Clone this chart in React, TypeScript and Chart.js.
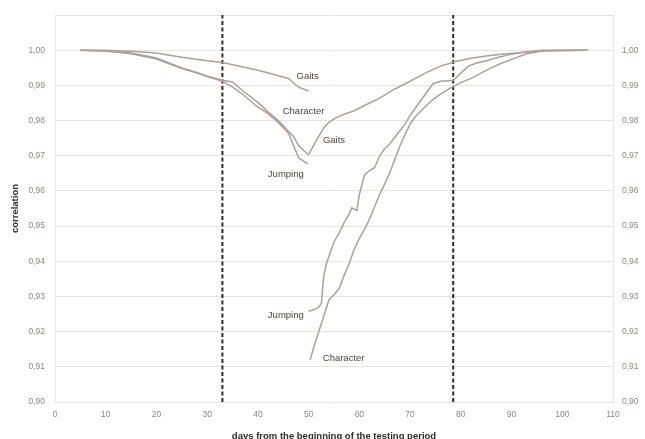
import React, { useEffect, useRef } from 'react';
import { Chart, registerables } from 'chart.js';

Chart.register(...registerables);

// ---- Data ----
const gaitsLeftDays = [5, 10, 15, 20, 25, 30, 33, 36, 40, 43, 46, 48, 50];
const gaitsLeftValues = [1.0, 1.0, 0.9997, 0.9992, 0.998, 0.997, 0.9965, 0.9956, 0.9943, 0.9932, 0.992, 0.9895, 0.9884];

const characterLeftDays = [5, 10, 15, 20, 25, 28, 30, 33, 35, 37, 40, 42, 44, 45, 46, 47, 48, 49, 50];
const characterLeftValues = [1.0, 0.9998, 0.9992, 0.9978, 0.995, 0.9937, 0.9926, 0.9915, 0.991, 0.9885, 0.9852, 0.9825, 0.98, 0.9785, 0.977, 0.9755, 0.973, 0.9715, 0.9703];

const jumpingLeftDays = [5, 10, 15, 20, 25, 28, 30, 33, 35, 37, 40, 42, 44, 45, 46, 47, 48, 49, 49.8];
const jumpingLeftValues = [1.0, 0.9998, 0.999, 0.9975, 0.9948, 0.9935, 0.9925, 0.9912, 0.9895, 0.9875, 0.9838, 0.982, 0.9795, 0.978, 0.9765, 0.973, 0.9695, 0.9685, 0.9677];

const gaitsRightDays = [50, 51, 52, 53, 54, 55, 57, 59, 62, 64, 67, 70, 73, 76, 79, 82, 85, 88, 93, 98, 105];
const gaitsRightValues = [0.9703, 0.973, 0.9755, 0.978, 0.9795, 0.9805, 0.9818, 0.9828, 0.985, 0.9864, 0.989, 0.9912, 0.9935, 0.9955, 0.9968, 0.9977, 0.9984, 0.9989, 0.9995, 0.9999, 1.0];

const jumpingRightDays = [50, 51, 52, 52.5, 53, 53.5, 55, 56, 57, 58, 58.5, 59, 59.5, 60, 61, 62, 63, 64, 65, 66, 67.5, 69, 70, 71.5, 73, 74.5, 76, 78.5, 80, 81.5, 83, 85, 87.5, 90, 93, 96, 105];
const jumpingRightValues = [0.9258, 0.9262, 0.927, 0.928, 0.936, 0.9394, 0.9455, 0.948, 0.951, 0.9535, 0.9552, 0.9548, 0.9544, 0.959, 0.9645, 0.9658, 0.9666, 0.97, 0.972, 0.9734, 0.9762, 0.979, 0.9815, 0.9845, 0.9875, 0.9905, 0.9912, 0.9914, 0.9935, 0.9955, 0.9963, 0.997, 0.998, 0.9989, 0.9996, 1.0, 1.0];

const characterRightDays = [50.3, 51, 52, 53, 54, 55, 56, 57, 58, 59, 60, 61, 62, 63, 64, 65, 66, 67, 68, 69, 70, 71, 72, 73, 74.5, 76, 78, 80, 82, 84, 86, 88, 90, 93, 96, 105];
const characterRightValues = [0.912, 0.9155, 0.92, 0.9245, 0.929, 0.9305, 0.9322, 0.936, 0.9394, 0.9435, 0.9465, 0.949, 0.952, 0.9555, 0.959, 0.962, 0.9652, 0.969, 0.9728, 0.976, 0.979, 0.981, 0.9825, 0.984, 0.986, 0.9875, 0.9893, 0.9908, 0.992, 0.9935, 0.995, 0.9963, 0.9974, 0.999, 0.9998, 1.0];

const periodBoundaryDays = [33, 78.5];

const xTickValues = [0, 10, 20, 30, 40, 50, 60, 70, 80, 90, 100, 110];
const yTickValues = [0.9, 0.91, 0.92, 0.93, 0.94, 0.95, 0.96, 0.97, 0.98, 0.99, 1.0, 1.01];
const hiddenYTickValues = [1.01];

const curveLabelTexts = ['Gaits', 'Character', 'Gaits', 'Jumping', 'Jumping', 'Character'];
const curveLabelDays = [49.8, 49.0, 55.0, 45.5, 45.5, 56.9];
const curveLabelValues = [0.9926, 0.9827, 0.9745, 0.9646, 0.9246, 0.9125];

const xTitle = 'days from the beginning of the testing period';
const yTitle = 'correlation';

// ---- helpers ----
const toPoints = (days: number[], values: number[]) => days.map((d, i) => ({ x: d, y: values[i] }));

const LINE_COLOR = '#a9a19d';
const GRID_COLOR = '#e7e3e1';
const TICK_COLOR = '#8c8886';

const curveLabelsPlugin = {
  id: 'curveLabels',
  afterDatasetsDraw(chart: any) {
    const { ctx, scales } = chart;
    ctx.save();
    ctx.font = '9.5px "Liberation Sans", Arial, sans-serif';
    ctx.fillStyle = '#4a4644';
    ctx.textAlign = 'center';
    ctx.textBaseline = 'middle';
    curveLabelTexts.forEach((t, i) => {
      const px = scales.x.getPixelForValue(curveLabelDays[i]);
      const py = scales.y.getPixelForValue(curveLabelValues[i]);
      ctx.fillText(t, px, py);
    });
    ctx.restore();
  },
};

export default function App() {
  const canvasRef = useRef<HTMLCanvasElement | null>(null);

  useEffect(() => {
    if (!canvasRef.current) return;
    const series = [
      toPoints(gaitsLeftDays, gaitsLeftValues),
      toPoints(characterLeftDays, characterLeftValues),
      toPoints(jumpingLeftDays, jumpingLeftValues),
      toPoints(gaitsRightDays, gaitsRightValues),
      toPoints(jumpingRightDays, jumpingRightValues),
      toPoints(characterRightDays, characterRightValues),
    ];
    const datasets: any[] = series.map((pts) => ({
      data: pts,
      borderColor: LINE_COLOR,
      borderWidth: 1.5,
      pointRadius: 0,
      tension: 0,
      fill: false,
    }));
    periodBoundaryDays.forEach((d) => {
      datasets.push({
        data: [
          { x: d, y: yTickValues[0] },
          { x: d, y: yTickValues[yTickValues.length - 1] },
        ],
        borderColor: '#2a2a2a',
        borderWidth: 2,
        borderDash: [4, 2.5],
        pointRadius: 0,
        fill: false,
      });
    });

    const fmt = (v: number) => {
      if (hiddenYTickValues.some((h) => Math.abs(h - v) < 1e-6)) return '';
      return v.toFixed(2).replace('.', ',');
    };
    const yTicksFn = (axis: any) => {
      axis.ticks = yTickValues.map((v) => ({ value: v }));
    };

    const chart = new Chart(canvasRef.current, {
      type: 'line',
      data: { datasets },
      plugins: [curveLabelsPlugin],
      options: {
        animation: false,
        responsive: false,
        parsing: true,
        layout: { padding: { top: 14, left: 0, right: 0, bottom: 0 } },
        plugins: { legend: { display: false }, tooltip: { enabled: false } },
        scales: {
          x: {
            type: 'linear',
            min: 0,
            max: 110,
            afterBuildTicks: (axis: any) => {
              axis.ticks = xTickValues.map((v) => ({ value: v }));
            },
            afterFit: (s: any) => {
              s.height = 37;
            },
            grid: { display: false, drawTicks: false },
            border: { display: false },
            ticks: {
              color: TICK_COLOR,
              padding: 8,
              maxRotation: 0,
              font: { size: 8.5, family: '"Liberation Sans", Arial, sans-serif' },
            },
            title: {
              display: true,
              text: xTitle,
              color: '#2e2b2a',
              font: { size: 9.5, weight: 'bold', family: '"Liberation Sans", Arial, sans-serif', lineHeight: 1 },
              padding: { top: 0, bottom: -2 },
            },
          },
          y: {
            type: 'linear',
            position: 'left',
            min: 0.9,
            max: 1.01,
            afterBuildTicks: yTicksFn,
            afterFit: (s: any) => {
              s.width = 55;
            },
            grid: { color: GRID_COLOR, drawTicks: false, lineWidth: 1 },
            border: { display: true, color: GRID_COLOR },
            ticks: {
              color: TICK_COLOR,
              padding: 10,
              callback: (v: any) => fmt(Number(v)),
              font: { size: 8.5, family: '"Liberation Sans", Arial, sans-serif' },
            },
            title: {
              display: true,
              text: yTitle,
              color: '#2e2b2a',
              font: { size: 9.5, weight: 'bold', family: '"Liberation Sans", Arial, sans-serif', lineHeight: 1 },
              padding: { top: 11, bottom: 0 },
            },
          },
          y2: {
            type: 'linear',
            position: 'right',
            min: 0.9,
            max: 1.01,
            afterBuildTicks: yTicksFn,
            afterFit: (s: any) => {
              s.width = 32;
            },
            grid: { display: false, drawTicks: false },
            border: { display: true, color: GRID_COLOR },
            ticks: {
              color: TICK_COLOR,
              padding: 9,
              callback: (v: any) => fmt(Number(v)),
              font: { size: 8.5, family: '"Liberation Sans", Arial, sans-serif' },
            },
          },
        },
      } as any,
    });
    return () => chart.destroy();
  }, []);

  return (
    <div style={{ position: 'absolute', left: 0, top: 0, width: 645, height: 439, background: '#ffffff' }}>
      <canvas ref={canvasRef} width={645} height={439} style={{ width: 645, height: 439, display: 'block' }} />
    </div>
  );
}
